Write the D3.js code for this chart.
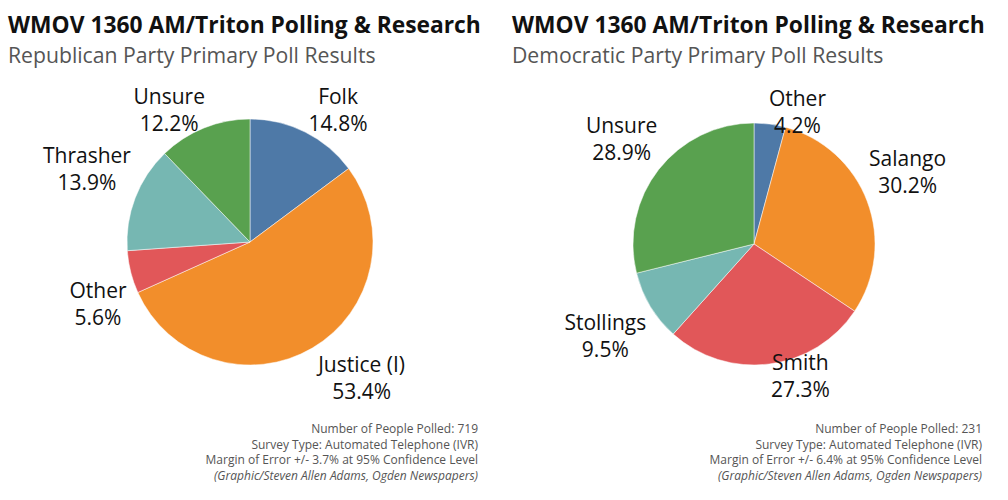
<!DOCTYPE html>
<html>
<head>
<meta charset="utf-8" />
<title>WMOV poll</title>
<script src="https://d3js.org/d3.v7.min.js"></script>
<style>
  body { margin: 0; background: #fff; }
  text { font-family: "Open Sans", "Noto Sans", sans-serif; }
</style>
</head>
<body>
<div id="chart"></div>
<script>
// data
var repNames = ["Folk", "Justice (I)", "Other", "Thrasher", "Unsure"];
var repValues = [14.8, 53.4, 5.6, 13.9, 12.2];
var demNames = ["Other", "Salango", "Smith", "Stollings", "Unsure"];
var demValues = [4.2, 30.2, 27.3, 9.5, 28.9];
var repNotes = ["Number of People Polled: 719", "Survey Type: Automated Telephone (IVR)",
  "Margin of Error +/- 3.7% at 95% Confidence Level", "(Graphic/Steven Allen Adams, Ogden Newspapers)"];
var demNotes = ["Number of People Polled: 231", "Survey Type: Automated Telephone (IVR)",
  "Margin of Error +/- 6.4% at 95% Confidence Level", "(Graphic/Steven Allen Adams, Ogden Newspapers)"];

var width = 1008, height = 500;
var svg = d3.select("#chart").append("svg").attr("width", width).attr("height", height);

var colors = {"Folk": "#4e79a7", "Justice (I)": "#f28e2b", "Thrasher": "#76b7b2",
  "Salango": "#f28e2b", "Smith": "#e15759", "Stollings": "#76b7b2", "Unsure": "#59a14f"};

// small hand tweaks so labels sit where tableau put them
var repNudge = {"Folk": [14, 23], "Justice (I)": [28, 1], "Other": [8, 29], "Thrasher": [-9, -6], "Unsure": [-19, 29]};
var demNudge = {"Other": [22, 37], "Salango": [1, -7], "Smith": [26, -22], "Stollings": [-9, 16], "Unsure": [-4, 3]};

function panel(x0, subtitle, names, values, notes, cx, cy, r, nudge, otherColor) {
  var g = svg.append("g").attr("transform", "translate(" + x0 + ",0)");
  g.append("text").attr("x", 8).attr("y", 33).attr("font-size", 22.8).attr("font-weight", 700)
    .attr("fill", "#111").text("WMOV 1360 AM/Triton Polling & Research");
  g.append("text").attr("x", 8).attr("y", 63).attr("font-size", 21.2).attr("fill", "#555").text(subtitle);

  var data = names.map(function(n, i) { return {name: n, value: values[i]}; });
  var pie = d3.pie().sort(null).value(function(d) { return d.value; });
  var arc = d3.arc().innerRadius(0).outerRadius(r);
  var labelArc = d3.arc().innerRadius(r + 42).outerRadius(r + 42);
  var arcs = pie(data);

  var p = g.append("g").attr("transform", "translate(" + cx + "," + cy + ")");
  p.selectAll("path").data(arcs).enter().append("path")
    .attr("d", arc)
    .attr("fill", function(d) { return d.data.name == "Other" ? otherColor : colors[d.data.name]; })
    .attr("stroke", "#fff").attr("stroke-width", 0.5);

  var lab = p.selectAll(".lab").data(arcs).enter().append("text")
    .attr("class", "lab")
    .attr("text-anchor", "middle")
    .attr("font-size", 21)
    .attr("fill", "#111")
    .attr("transform", function(d) {
      var c = labelArc.centroid(d), n = nudge[d.data.name];
      return "translate(" + (c[0] + n[0]) + "," + (c[1] + n[1]) + ")";
    });
  lab.append("tspan").attr("x", 0).attr("y", -13.5).text(function(d) { return d.data.name; });
  lab.append("tspan").attr("x", 0).attr("y", 13.5).text(function(d) { return d3.format(".1f")(d.data.value) + "%"; });

  g.selectAll(".note").data(notes).enter().append("text")
    .attr("class", "note")
    .attr("x", 478)
    .attr("y", function(d, i) { return 433 + i * 15.5; })
    .attr("text-anchor", "end")
    .attr("font-size", 12)
    .attr("fill", "#555")
    .attr("font-style", function(d, i) { return i == 3 ? "italic" : "normal"; })
    .text(function(d) { return d; });
}

panel(0, "Republican Party Primary Poll Results", repNames, repValues, repNotes, 250, 242, 123, repNudge, "#e15759");
panel(504, "Democratic Party Primary Poll Results", demNames, demValues, demNotes, 250, 244, 121, demNudge, "#4e79a7");
</script>
</body>
</html>
